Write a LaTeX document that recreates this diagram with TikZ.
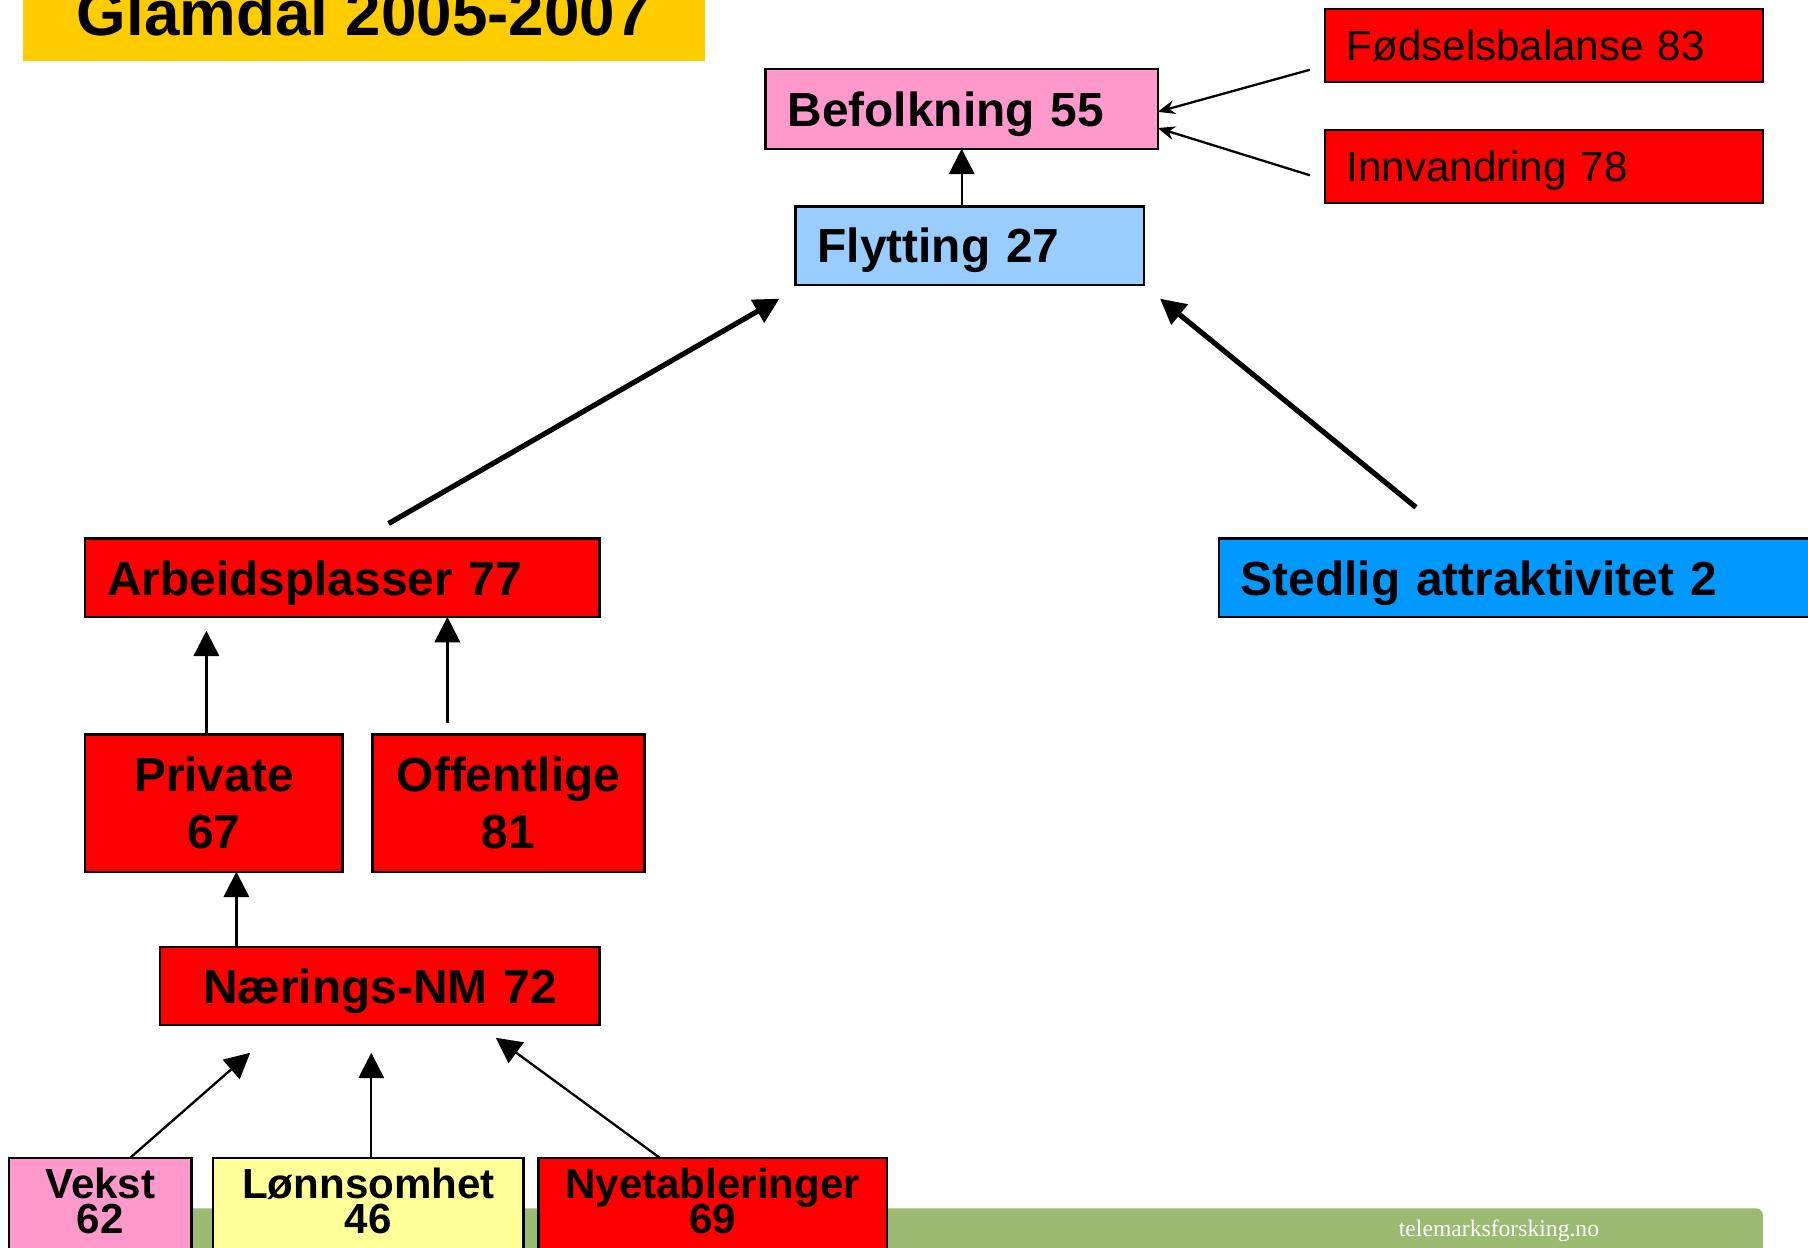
\documentclass[tikz,border=0pt]{standalone}
\usepackage{fontspec}
\setmainfont{Liberation Sans}
\newfontfamily\footfont{Liberation Serif}
\usetikzlibrary{arrows.meta,calc}

\definecolor{pinkbox}{HTML}{FF99CC}
\definecolor{skyblue}{HTML}{99CCFF}
\definecolor{deepblue}{HTML}{0099FF}
\definecolor{titleyellow}{HTML}{FFCC00}
\definecolor{paleyellow}{HTML}{FFFF99}
\definecolor{footgreen}{HTML}{9BBB73}
\newcommand\lowfont{\fontsize{36.5}{31}\selectfont\bfseries\lineskiplimit=-100pt\relax}

\begin{document}
\begin{tikzpicture}[x=1pt, y=-1pt,
  box/.style={draw=black, line width=2pt, anchor=north west, outer sep=0pt, inner xsep=19pt, inner ysep=0pt},
  oneline/.style={box, align=left, font=\fontsize{41.5}{50}\selectfont\bfseries, text depth=0pt},
  plainline/.style={box, align=left, font=\fontsize{36.5}{44}\selectfont, text depth=0pt},
  twoline/.style={box, align=center, font=\fontsize{41.5}{49}\selectfont\bfseries},
  lowbox/.style={box, align=center, font=\lowfont, text height=26pt, text depth=66pt, minimum height=110pt},
  thinar/.style={line width=2pt, -{Triangle[length=22pt,width=22pt]}},
  thickar/.style={line width=4.5pt, -{Triangle[length=22pt,width=22pt]}},
  smallar/.style={line width=2pt, -{Stealth[length=15pt,width=12pt]}}]
\useasboundingbox (0,0) rectangle (1568,1082);
\clip (0,0) rectangle (1568,1082);
\fill[white] (0,0) rectangle (1568,1082);
\node[fill=titleyellow, anchor=south west, outer sep=0pt, inner sep=0pt, minimum width=591pt, minimum height=84pt, font=\fontsize{55.3}{60}\selectfont\bfseries] (title) at (20,53) {Glamdal 2005-2007};
\fill[footgreen, rounded corners=6pt] (150,1100) |- (1529,1048) -- (1529,1100) -- cycle;
\node[anchor=base, text=white, font=\footfont\fontsize{20.5}{24}\selectfont] (web) at (1300,1072) {telemarksforsking.no};
\node[oneline, fill=pinkbox, text width=302pt, minimum height=69pt] (bef) at (664,60) {Befolkning 55};
\node[plainline, fill=red, text width=342pt, minimum height=63pt] (fod) at (1149,8) {Fødselsbalanse 83};
\node[plainline, fill=red, text width=342pt, minimum height=63pt] (inn) at (1149,113) {Innvandring 78};
\node[oneline, fill=skyblue, text width=264pt, minimum height=68pt] (fly) at (690,179) {Flytting 27};
\node[oneline, fill=red, text width=408pt, minimum height=68pt] (arb) at (74,467) {Arbeidsplasser 77};
\node[oneline, fill=deepblue, text width=522pt, minimum height=68pt] (sted) at (1057,467) {Stedlig attraktivitet 2};
\node[twoline, fill=red, text width=185pt, minimum height=119pt] (priv) at (74,637) {Private\\67};
\node[twoline, fill=red, text width=198pt, minimum height=119pt] (off) at (323,637) {Offentlige\\81};
\node[oneline, align=center, fill=red, text width=343pt, minimum height=68pt] (nae) at (139,821) {Nærings-NM 72};
\node[lowbox, fill=pinkbox, text width=120pt] (vek) at (8,1004) {Vekst\\62};
\node[lowbox, fill=paleyellow, text width=231pt] (lon) at (185,1004) {Lønnsomhet\\46};
\node[lowbox, fill=red, text width=264pt] (nye) at (467,1004) {Nyetableringer\\69};
\draw[thinar] (bef.south |- fly.north) -- (bef.south);
\draw[smallar] ($(fod.west)+(-13,21)$) -- ($(bef.east)+(0,2.5)$);
\draw[smallar] ($(inn.west)+(-13,7.5)$) -- ($(bef.east)+(0,16.5)$);
\draw[thickar] ($(arb.north)+(40,-13)$) -- ($(fly.south west)+(-14,12)$);
\draw[thickar] ($(sted.north west)+(171,-27)$) -- ($(fly.south east)+(14,12)$);
\draw[thinar] ($(priv.north west)+(105,0)$) -- ($(arb.south west)+(105,12)$);
\draw[thinar] ($(off.north west)+(65,-10)$) -- ($(arb.south west)+(314,0)$);
\draw[thinar] ($(nae.north west)+(66,0)$) -- ($(priv.south west)+(131,0)$);
\draw[thinar] ($(vek.north west)+(105,0)$) -- ($(nae.south west)+(78,24)$);
\draw[thinar] ($(lon.north west)+(137,0)$) -- ($(nae.south west)+(183,24)$);
\draw[thinar] ($(nye.north west)+(105,0)$) -- ($(nae.south west)+(291,11)$);
\end{tikzpicture}
\end{document}
